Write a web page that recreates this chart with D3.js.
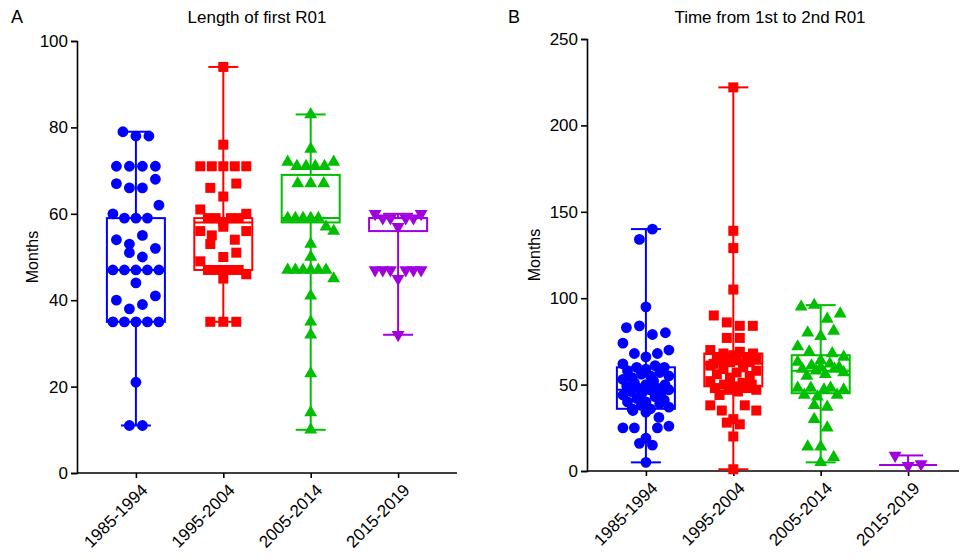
<!DOCTYPE html>
<html><head><meta charset="utf-8">
<script src="https://cdn.jsdelivr.net/npm/d3@7/dist/d3.min.js"></script>
<style>body{margin:0;background:#fff}svg{display:block}text{font-family:"Liberation Sans",Arial,sans-serif;fill:#000}</style>
</head><body>
<svg id="c" width="959" height="559"></svg>
<script>
const categories = ["1985-1994","1995-2004","2005-2014","2015-2019"];
const colors = ["#0000FF","#FF0000","#00BF00","#A000DD"];
const shapes = ["circle","square","triangle","triangleDown"];

// Panel A: Length of first R01 (months)
const lenA_1985 = [79,78,78,71,71,71,71,67,66,66,68,60,59,59,59,62,54,53,55,51,52,50,47,47,47,47,47,44,40,38,39,41,35,35,35,35,35,21,11,11];
const lenA_1995 = [94,76,71,71,71,71,71,66,64,67,61,59,59,58,59,59,60,56,55,57,54,56,53,50,49,51,47,47,47,47,47,46,45,35,35,35];
const lenA_2005 = [83,75,72,71,71,71,71,72,67,67,67,59,59,59,59,59,57,56,53,50,47,47,47,47,47,47,45,41,35,32,23,14,10];
const lenA_2015 = [60,59,59,57,59,59,60,47,47,47,45,47,47,47,32];
// box stats: [min, q1, median, q3, max]
const boxA = [[11,35,47,59,79],[35,47,58,59,94],[10,58,59,69,83],[32,56,59,59,60]];
const ticksA = [0,20,40,60,80,100];

// Panel B: Time from 1st to 2nd R01 (months)
const timeB_1985 = [134,140,95,83,84,79,80,74,68,68,70,66,62,61,60,60,59,58,57,56,55,55,54,53,52,51,50,50,49,48,48,47,47,46,45,45,44,43,42,41,40,40,39,38,37,36,36,35,34,31,25,25,25,26,16,19,15,5];
const timeB_1995 = [222,139,129,105,90,86,84,84,77,77,70,69,68,68,67,66,66,65,65,64,64,63,63,62,62,61,60,59,58,57,56,55,54,52,51,50,50,49,48,48,47,47,46,44,38,38,35,35,30,28,27,20,1];
const timeB_2005 = [95,96,88,91,80,78,81,72,68,69,66,64,63,62,61,60,60,59,59,58,57,56,55,48,48,48,47,47,44,44,43,38,37,30,25,14,14,8,5];
const timeB_2015 = [9,3,4];
const boxB = [[5,36,47,60,140],[1,49,62,68,222],[5,45,58,67,96],[3.5,3.5,3.5,3.5,9]];
const ticksB = [0,50,100,150,200,250];

const svg = d3.select("#c");
const FONT = "Liberation Sans, Arial, sans-serif";

function symbolFor(s){
  if(s==="circle") return d3.symbol(d3.symbolCircle, 92)();
  if(s==="square") return d3.symbol(d3.symbolSquare, 100)();
  return d3.symbol(d3.symbolTriangle, 72)();
}

// Row layout: points close in height share a row and are spread around the centre
function rows(vals, y, mix){
  const items = vals.map((v,i)=>({v,i,py:y(v)})).sort((a,b)=>a.py-b.py||a.i-b.i);
  const bins = [];
  let cur = null;
  items.forEach(it=>{
    if(cur && it.py - cur.last < 10.5 && it.py - cur.start < 14){ cur.items.push(it); cur.last = it.py; }
    else { cur = {start:it.py,last:it.py,items:[it]}; bins.push(cur); }
  });
  bins.forEach(b=>{
    const n = b.items.length;
    b.items.sort((a,c)=>a.i-c.i);
    let slots = d3.range(n);
    if(mix && n>=5){
      const order = d3.range(n).sort((a,c)=>((a*0.618034)%1)-((c*0.618034)%1));
      order.forEach((k,r)=>{ slots[k] = r; });
    }
    const sp = n>1 ? Math.min(13, 46/(n-1)) : 0;
    b.items.forEach((it,k)=>{ it.dx = (slots[k]-(n-1)/2)*sp; });
  });
  return items.sort((a,b)=>a.i-b.i);
}

function panel(opt){
  const g = svg.append("g");
  const x = d3.scalePoint().domain(categories).range([opt.x0, opt.x0+380]).padding(0.674);
  const y = d3.scaleLinear().domain([0, opt.max]).range([opt.yb, opt.yt]);
  const ya = g.append("g").attr("transform",`translate(${opt.x0},0)`)
    .call(d3.axisLeft(y).tickValues(opt.ticks).tickSize(6).tickPadding(3));
  ya.select(".domain").attr("stroke","#000").attr("stroke-width",1.6);
  ya.selectAll(".tick line").attr("stroke","#000").attr("stroke-width",1.6);
  ya.selectAll(".tick text").style("font-size","17px").style("font-family",FONT);
  const xa = g.append("g").attr("transform",`translate(0,${opt.yb})`)
    .call(d3.axisBottom(x).tickSize(5).tickSizeOuter(0));
  xa.select(".domain").attr("stroke","#000").attr("stroke-width",1.6).attr("d",`M${opt.x0},0H${opt.x0+380}`);
  xa.selectAll(".tick line").attr("stroke","#000").attr("stroke-width",1.6);
  xa.selectAll(".tick text").style("font-size","17px").style("font-family",FONT)
    .attr("text-anchor","end").attr("transform","translate(8,14) rotate(-45)").attr("dy","0.35em").attr("y",0).attr("x",0);
  g.append("text").attr("x",opt.tx).attr("y",23).attr("text-anchor","middle").style("font-size","17px").text(opt.title);
  g.append("text").attr("x",opt.lx).attr("y",23).style("font-size","18px").text(opt.letter);
  g.append("text").attr("transform",`translate(${opt.mx},${(opt.yb+opt.yt)/2}) rotate(-90)`)
    .attr("text-anchor","middle").style("font-size","16px").text("Months");
  categories.forEach((c,i)=>{
    const cx = x(c), col = colors[i], [mn,q1,md,q3,mx] = opt.box[i];
    const bw = 29, cw = 15;
    const bg = g.append("g").attr("stroke",col).attr("stroke-width",2).attr("fill","none");
    bg.append("line").attr("x1",cx).attr("x2",cx).attr("y1",y(q3)).attr("y2",y(mx));
    bg.append("line").attr("x1",cx).attr("x2",cx).attr("y1",y(q1)).attr("y2",y(mn));
    bg.append("line").attr("x1",cx-cw).attr("x2",cx+cw).attr("y1",y(mx)).attr("y2",y(mx));
    bg.append("line").attr("x1",cx-cw).attr("x2",cx+cw).attr("y1",y(mn)).attr("y2",y(mn));
    if(y(q1)-y(q3) > 0.5) bg.append("rect").attr("x",cx-bw).attr("width",2*bw).attr("y",y(q3)).attr("height",y(q1)-y(q3));
    bg.append("line").attr("x1",cx-bw).attr("x2",cx+bw).attr("y1",y(md)).attr("y2",y(md));
    const pts = rows(opt.data[i], y, opt.mix);
    const path = symbolFor(shapes[i]);
    g.append("g").selectAll("path").data(pts).join("path")
      .attr("d",path).attr("fill",col)
      .attr("transform",d=>`translate(${cx+d.dx},${y(d.v)})${shapes[i]==="triangleDown"?" rotate(180)":""}`);
  });
}

panel({x0:77, yb:473, yt:41, max:100, ticks:ticksA, box:boxA, mix:false,
  data:[lenA_1985,lenA_1995,lenA_2005,lenA_2015], title:"Length of first R01", tx:257, lx:11, letter:"A", mx:38});
panel({x0:587, yb:471, yt:39, max:250, ticks:ticksB, box:boxB, mix:true,
  data:[timeB_1985,timeB_1995,timeB_2005,timeB_2015], title:"Time from 1st to 2nd R01", tx:770, lx:508, letter:"B", mx:540});
</script>
</body></html>
